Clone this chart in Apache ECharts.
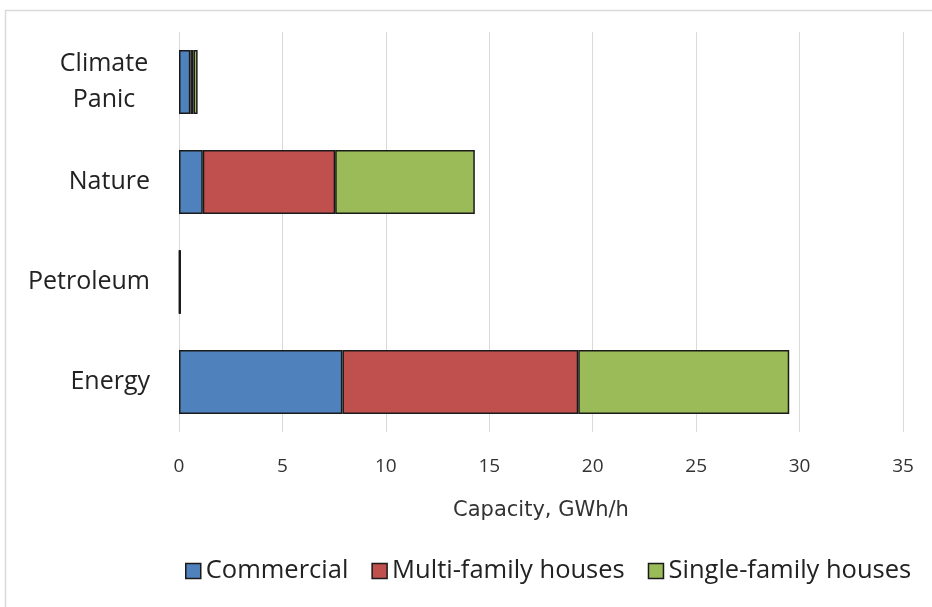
<!DOCTYPE html>
<html><head><meta charset="utf-8">
<script src="https://cdn.jsdelivr.net/npm/echarts@6/dist/echarts.min.js"></script>
<style>html,body{margin:0;padding:0;background:#fff}#c{width:932px;height:607px}</style>
</head><body><div id="c"></div>
<script>
const categories = ['Energy', 'Petroleum', 'Nature', 'Climate\nPanic'];
const commercial = [7.9, 0.03, 1.15, 0.55];
const multiFamily = [11.4, 0.02, 6.4, 0.15];
const singleFamily = [10.2, 0.02, 6.75, 0.2];
const seriesNames = ['Commercial', 'Multi-family houses', 'Single-family houses'];
const xTicks = [0, 5, 10, 15, 20, 25, 30, 35];

const FONT = '"Open Sans", "Noto Sans", sans-serif';
const colors = ['#4f81bd', '#c0504d', '#9bbb59'];
const chart = echarts.init(document.getElementById('c'), null, {renderer: 'canvas'});
const mk = (name, data, i) => ({
  name, type: 'bar', stack: 'total', data, barWidth: '64%',
  itemStyle: {color: colors[i], borderColor: '#1a1a1a', borderWidth: 1.5}
});
chart.setOption({
  animation: false,
  graphic: [{type: 'rect', shape: {x: 5.5, y: 10.5, width: 940, height: 600}, style: {fill: 'none', stroke: '#d9d9d9', lineWidth: 1.5}}],
  grid: {left: 179, right: 29, top: 32, bottom: 175, containLabel: false},
  xAxis: {
    type: 'value', min: xTicks[0], max: xTicks[xTicks.length - 1], interval: 5,
    name: 'Capacity, GWh/h', nameLocation: 'middle', nameGap: 68,
    nameTextStyle: {fontFamily: '"DejaVu Sans", sans-serif', fontSize: 21, color: '#333'},
    axisLine: {show: false}, axisTick: {show: false},
    axisLabel: {fontFamily: FONT, fontSize: 19, color: '#333', margin: 25},
    splitLine: {show: true, lineStyle: {color: '#d9d9d9', width: 1}}
  },
  yAxis: {
    type: 'category', data: categories,
    axisLine: {show: false}, axisTick: {show: false},
    axisLabel: {
      fontFamily: FONT, fontSize: 25, color: '#222', margin: 29, lineHeight: 36,
      formatter: v => v.indexOf('\n') >= 0 ? v.split('\n').map(s => '{c|' + s + '}').join('\n') : v,
      rich: {c: {fontFamily: FONT, fontSize: 25, color: '#222', width: 92, align: 'center', lineHeight: 36}}
    }
  },
  legend: {
    bottom: 18, left: 180, itemGap: 23, itemWidth: 15, itemHeight: 15,
    icon: 'rect',
    textStyle: {fontFamily: FONT, fontSize: 25.5, color: '#222', padding: [0, 0, 0, 0]},
    data: seriesNames.map(n => ({name: n, itemStyle: {borderColor: '#1a1a1a', borderWidth: 1.5}}))
  },
  series: [mk(seriesNames[0], commercial, 0), mk(seriesNames[1], multiFamily, 1), mk(seriesNames[2], singleFamily, 2)]
});
</script></body></html>
